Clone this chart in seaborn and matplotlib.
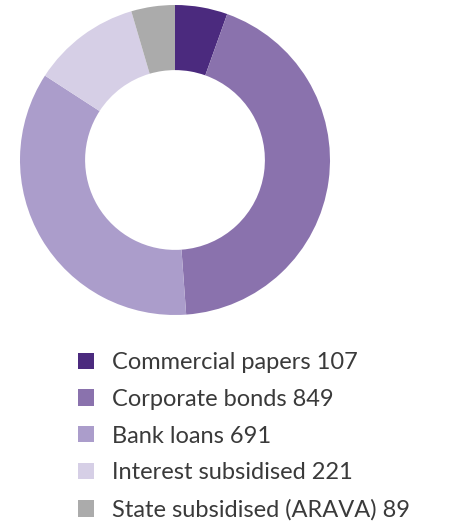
import matplotlib
matplotlib.use("Agg")
import matplotlib.pyplot as plt
import seaborn as sns

categories = ["Commercial papers", "Corporate bonds", "Bank loans",
              "Interest subsidised", "State subsidised (ARAVA)"]
values = [107, 849, 691, 221, 89]
colors = ["#4B2A7E", "#8A72AD", "#AB9DCB", "#D6CFE6", "#ABABAB"]

sns.set_theme(style="white")
plt.rcParams["font.family"] = ["Lato", "DejaVu Sans"]

W, H = 462, 522
fig = plt.figure(figsize=(W / 100, H / 100), dpi=100)

# donut axes: centre (175, 160) px, radius 155 px
cx, cy, r = 175, 160, 155
ax = fig.add_axes([(cx - r) / W, (H - cy - r) / H, 2 * r / W, 2 * r / H])
wedges, _ = ax.pie(values, colors=colors, startangle=90, counterclock=False,
                   radius=1.0, wedgeprops=dict(width=0.42, linewidth=0))
ax.set_xlim(-1, 1)
ax.set_ylim(-1, 1)
ax.set_aspect("equal")
ax.axis("off")

labels = [f"{c} {v}" for c, v in zip(categories, values)]
leg = fig.legend(wedges, labels, loc="upper left",
                 bbox_to_anchor=(78 / W, 1 - 352 / H),
                 frameon=False, prop=dict(size=17),
                 handlelength=0.68, handleheight=0.68, handletextpad=0.75,
                 labelspacing=0.67, borderpad=0, borderaxespad=0)
for t in leg.get_texts():
    t.set_color("#3a3a3a")

fig.savefig("out.png", dpi=100)
